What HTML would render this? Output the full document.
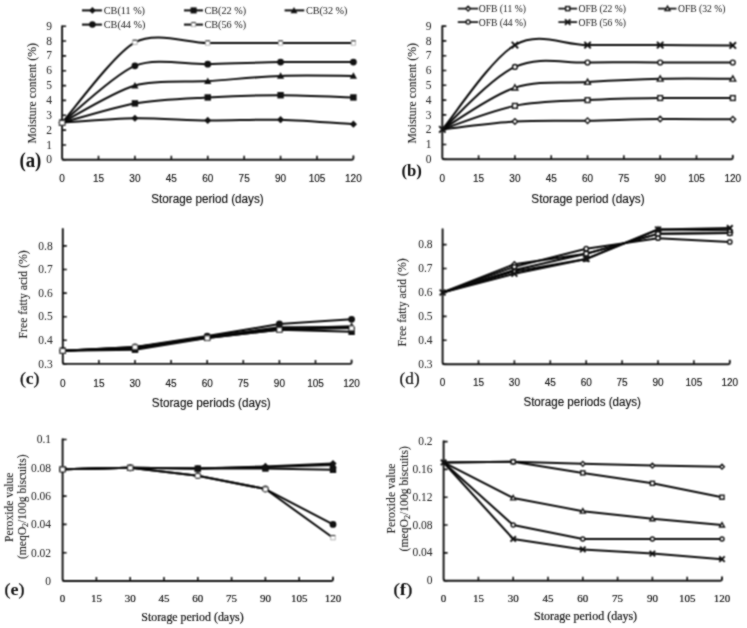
<!DOCTYPE html><html><head><meta charset="utf-8"><style>html,body{margin:0;padding:0;background:#fff;}svg{display:block;}</style></head><body>
<svg width="747" height="628" viewBox="0 0 747 628">
<defs><filter id="bl" x="0" y="0" width="747" height="628" filterUnits="userSpaceOnUse" color-interpolation-filters="sRGB"><feConvolveMatrix order="3" kernelMatrix="1 2 1 2 4 2 1 2 1" divisor="16" edgeMode="duplicate"/></filter><filter id="bt" x="0" y="0" width="747" height="628" filterUnits="userSpaceOnUse" color-interpolation-filters="sRGB"><feConvolveMatrix order="3" kernelMatrix="1 2 1 2 12 2 1 2 1" divisor="24" edgeMode="duplicate"/></filter></defs>
<g filter="url(#bl)">
<rect width="747" height="628" fill="#fff"/>
<path d="M82,10.4 L102,10.4" stroke="#080808" stroke-width="2"/>
<path d="M92.4,6.98 L95.82,10.4 L92.4,13.82 L88.98,10.4 Z" fill="#111"/>
<path d="M184,10.4 L203,10.4" stroke="#080808" stroke-width="2"/>
<rect x="190.56" y="7.36" width="6.08" height="6.08" fill="#111"/>
<path d="M284.6,10.4 L304.3,10.4" stroke="#080808" stroke-width="2"/>
<path d="M294,6.98 L297.42,13.14 L290.58,13.14 Z" fill="#111"/>
<path d="M82,24.6 L102,24.6" stroke="#080808" stroke-width="2"/>
<circle cx="92.4" cy="24.6" r="3.23" fill="#111"/>
<path d="M184,24.6 L203,24.6" stroke="#080808" stroke-width="2"/>
<rect x="191.51" y="22.51" width="4.18" height="4.18" fill="#fff" stroke="#999" stroke-width="0.7"/><path d="M191.51,22.51 h4.18" stroke="#444" stroke-width="1.2"/>
<path d="M62.1,26.2 L62.1,157.8 Q62.1,159.8 64.1,159.8 L351.9,159.8 Q353.4,159.8 353.4,158.3 L353.4,156.3" fill="none" stroke="#101010" stroke-width="1.9" stroke-linejoin="round" stroke-linecap="round"/>
<path d="M62.1,159.8 h4 M62.1,144.96 h4 M62.1,130.11 h4 M62.1,115.27 h4 M62.1,100.42 h4 M62.1,85.58 h4 M62.1,70.73 h4 M62.1,55.89 h4 M62.1,41.04 h4 M62.1,26.2 h4 M98.51,159.8 v-4 M134.92,159.8 v-4 M171.34,159.8 v-4 M207.75,159.8 v-4 M244.16,159.8 v-4 M280.57,159.8 v-4 M316.99,159.8 v-4" stroke="#101010" stroke-width="1.6" fill="none"/>
<path d="M62.1,122.69 C72.5,122.05 114.12,118.55 134.92,118.24 C155.73,117.92 186.94,120.25 207.75,120.46 C228.56,120.67 259.77,119.19 280.57,119.72 C301.38,120.25 343,123.54 353.4,124.17" fill="none" stroke="#080808" stroke-width="2" stroke-linejoin="round"/>
<path d="M62.1,122.69 C72.5,119.93 114.12,107 134.92,103.39 C155.73,99.79 186.94,98.62 207.75,97.45 C228.56,96.29 259.77,95.23 280.57,95.23 C301.38,95.23 343,97.14 353.4,97.45" fill="none" stroke="#080808" stroke-width="2" stroke-linejoin="round"/>
<path d="M62.1,122.69 C72.5,117.39 114.12,91.52 134.92,85.58 C155.73,79.64 186.94,82.5 207.75,81.12 C228.56,79.75 259.77,76.67 280.57,75.93 C301.38,75.19 343,75.93 353.4,75.93" fill="none" stroke="#080808" stroke-width="2" stroke-linejoin="round"/>
<path d="M62.1,122.69 C72.5,114.57 114.12,74.19 134.92,65.83 C155.73,57.48 186.94,64.73 207.75,64.2 C228.56,63.67 259.77,62.42 280.57,62.12 C301.38,61.83 343,62.12 353.4,62.12" fill="none" stroke="#080808" stroke-width="2" stroke-linejoin="round"/>
<path d="M62.1,122.69 C72.5,111.22 114.12,53.77 134.92,42.38 C155.73,30.99 186.94,42.89 207.75,42.97 C228.56,43.06 259.77,42.97 280.57,42.97 C301.38,42.97 343,42.97 353.4,42.97" fill="none" stroke="#080808" stroke-width="2" stroke-linejoin="round"/>
<path d="M62.1,119.09 L65.7,122.69 L62.1,126.29 L58.5,122.69 Z" fill="#111"/>
<path d="M134.92,114.64 L138.52,118.24 L134.92,121.84 L131.32,118.24 Z" fill="#111"/>
<path d="M207.75,116.86 L211.35,120.46 L207.75,124.06 L204.15,120.46 Z" fill="#111"/>
<path d="M280.57,116.12 L284.18,119.72 L280.57,123.32 L276.97,119.72 Z" fill="#111"/>
<path d="M353.4,120.57 L357,124.17 L353.4,127.77 L349.8,124.17 Z" fill="#111"/>
<rect x="58.9" y="119.49" width="6.4" height="6.4" fill="#111"/>
<rect x="131.72" y="100.19" width="6.4" height="6.4" fill="#111"/>
<rect x="204.55" y="94.25" width="6.4" height="6.4" fill="#111"/>
<rect x="277.38" y="92.03" width="6.4" height="6.4" fill="#111"/>
<rect x="350.2" y="94.25" width="6.4" height="6.4" fill="#111"/>
<path d="M62.1,119.09 L65.7,125.57 L58.5,125.57 Z" fill="#111"/>
<path d="M134.92,81.98 L138.52,88.46 L131.32,88.46 Z" fill="#111"/>
<path d="M207.75,77.52 L211.35,84 L204.15,84 Z" fill="#111"/>
<path d="M280.57,72.33 L284.18,78.81 L276.97,78.81 Z" fill="#111"/>
<path d="M353.4,72.33 L357,78.81 L349.8,78.81 Z" fill="#111"/>
<circle cx="62.1" cy="122.69" r="3.4" fill="#111"/>
<circle cx="134.92" cy="65.83" r="3.4" fill="#111"/>
<circle cx="207.75" cy="64.2" r="3.4" fill="#111"/>
<circle cx="280.57" cy="62.12" r="3.4" fill="#111"/>
<circle cx="353.4" cy="62.12" r="3.4" fill="#111"/>
<rect x="59.9" y="120.49" width="4.4" height="4.4" fill="#fff" stroke="#999" stroke-width="0.7"/><path d="M59.9,120.49 h4.4" stroke="#444" stroke-width="1.2"/>
<rect x="132.72" y="40.18" width="4.4" height="4.4" fill="#fff" stroke="#999" stroke-width="0.7"/><path d="M132.72,40.18 h4.4" stroke="#444" stroke-width="1.2"/>
<rect x="205.55" y="40.77" width="4.4" height="4.4" fill="#fff" stroke="#999" stroke-width="0.7"/><path d="M205.55,40.77 h4.4" stroke="#444" stroke-width="1.2"/>
<rect x="278.38" y="40.77" width="4.4" height="4.4" fill="#fff" stroke="#999" stroke-width="0.7"/><path d="M278.38,40.77 h4.4" stroke="#444" stroke-width="1.2"/>
<rect x="351.2" y="40.77" width="4.4" height="4.4" fill="#fff" stroke="#999" stroke-width="0.7"/><path d="M351.2,40.77 h4.4" stroke="#444" stroke-width="1.2"/>
<path d="M457.8,8.6 L478.2,8.6" stroke="#080808" stroke-width="1.7"/>
<path d="M468.1,6.22 L470.48,8.6 L468.1,10.98 L465.72,8.6 Z" fill="#fff" stroke="#111" stroke-width="1.4"/>
<path d="M558.4,8.6 L577.1,8.6" stroke="#080808" stroke-width="1.7"/>
<rect x="565.66" y="6.56" width="4.08" height="4.08" fill="#fff" stroke="#111" stroke-width="1.4"/>
<path d="M658,8.6 L676.5,8.6" stroke="#080808" stroke-width="1.7"/>
<path d="M667.5,6.13 L669.97,10.57 L665.03,10.57 Z" fill="#fff" stroke="#111" stroke-width="1.4"/>
<path d="M457.8,22.1 L478.2,22.1" stroke="#080808" stroke-width="1.7"/>
<circle cx="468.1" cy="22.1" r="2.04" fill="#fff" stroke="#111" stroke-width="1.4"/>
<path d="M558.4,22.1 L577.1,22.1" stroke="#080808" stroke-width="1.7"/>
<path d="M564.98,19.38 L570.42,24.82 M570.42,19.38 L564.98,24.82" stroke="#111" stroke-width="1.9"/>
<path d="M442.3,26.1 L442.3,157.3 Q442.3,159.3 444.3,159.3 L731.3,159.3 Q732.8,159.3 732.8,157.8 L732.8,155.8" fill="none" stroke="#101010" stroke-width="1.9" stroke-linejoin="round" stroke-linecap="round"/>
<path d="M442.3,159.3 h4 M442.3,144.5 h4 M442.3,129.7 h4 M442.3,114.9 h4 M442.3,100.1 h4 M442.3,85.3 h4 M442.3,70.5 h4 M442.3,55.7 h4 M442.3,40.9 h4 M442.3,26.1 h4 M478.61,159.3 v-4 M514.92,159.3 v-4 M551.24,159.3 v-4 M587.55,159.3 v-4 M623.86,159.3 v-4 M660.17,159.3 v-4 M696.49,159.3 v-4" stroke="#101010" stroke-width="1.6" fill="none"/>
<path d="M442.3,129.4 C454.4,128.1 490.72,123.02 514.92,121.56 C539.13,120.1 563.34,121.09 587.55,120.67 C611.76,120.25 635.97,119.27 660.17,119.04 C684.38,118.82 720.7,119.29 732.8,119.34" fill="none" stroke="#080808" stroke-width="2" stroke-linejoin="round"/>
<path d="M442.3,129.4 C454.4,125.48 490.72,110.76 514.92,105.87 C539.13,100.99 563.34,101.41 587.55,100.1 C611.76,98.79 635.97,98.37 660.17,98.03 C684.38,97.68 720.7,98.03 732.8,98.03" fill="none" stroke="#080808" stroke-width="2" stroke-linejoin="round"/>
<path d="M442.3,129.4 C454.4,122.45 490.72,95.56 514.92,87.67 C539.13,79.77 563.34,83.52 587.55,82.04 C611.76,80.56 635.97,79.33 660.17,78.79 C684.38,78.25 720.7,78.79 732.8,78.79" fill="none" stroke="#080808" stroke-width="2" stroke-linejoin="round"/>
<path d="M442.3,129.4 C454.4,118.99 490.72,78.1 514.92,66.95 C539.13,55.8 563.34,63.25 587.55,62.51 C611.76,61.77 635.97,62.51 660.17,62.51 C684.38,62.51 720.7,62.51 732.8,62.51" fill="none" stroke="#080808" stroke-width="2" stroke-linejoin="round"/>
<path d="M442.3,129.4 C454.4,115.34 490.72,59.1 514.92,45.04 C539.13,30.98 563.34,45.04 587.55,45.04 C611.76,45.04 635.97,44.97 660.17,45.04 C684.38,45.12 720.7,45.41 732.8,45.49" fill="none" stroke="#080808" stroke-width="2" stroke-linejoin="round"/>
<path d="M514.92,118.76 L517.72,121.56 L514.92,124.36 L512.12,121.56 Z" fill="#fff" stroke="#111" stroke-width="1.4"/>
<path d="M587.55,117.87 L590.35,120.67 L587.55,123.47 L584.75,120.67 Z" fill="#fff" stroke="#111" stroke-width="1.4"/>
<path d="M660.17,116.24 L662.97,119.04 L660.17,121.84 L657.38,119.04 Z" fill="#fff" stroke="#111" stroke-width="1.4"/>
<path d="M732.8,116.54 L735.6,119.34 L732.8,122.14 L730,119.34 Z" fill="#fff" stroke="#111" stroke-width="1.4"/>
<rect x="512.52" y="103.47" width="4.8" height="4.8" fill="#fff" stroke="#111" stroke-width="1.4"/>
<rect x="585.15" y="97.7" width="4.8" height="4.8" fill="#fff" stroke="#111" stroke-width="1.4"/>
<rect x="657.77" y="95.63" width="4.8" height="4.8" fill="#fff" stroke="#111" stroke-width="1.4"/>
<rect x="730.4" y="95.63" width="4.8" height="4.8" fill="#fff" stroke="#111" stroke-width="1.4"/>
<path d="M514.92,84.77 L517.82,89.99 L512.02,89.99 Z" fill="#fff" stroke="#111" stroke-width="1.4"/>
<path d="M587.55,79.14 L590.45,84.36 L584.65,84.36 Z" fill="#fff" stroke="#111" stroke-width="1.4"/>
<path d="M660.17,75.89 L663.07,81.11 L657.27,81.11 Z" fill="#fff" stroke="#111" stroke-width="1.4"/>
<path d="M732.8,75.89 L735.7,81.11 L729.9,81.11 Z" fill="#fff" stroke="#111" stroke-width="1.4"/>
<circle cx="514.92" cy="66.95" r="2.4" fill="#fff" stroke="#111" stroke-width="1.4"/>
<circle cx="587.55" cy="62.51" r="2.4" fill="#fff" stroke="#111" stroke-width="1.4"/>
<circle cx="660.17" cy="62.51" r="2.4" fill="#fff" stroke="#111" stroke-width="1.4"/>
<circle cx="732.8" cy="62.51" r="2.4" fill="#fff" stroke="#111" stroke-width="1.4"/>
<path d="M439.1,126.2 L445.5,132.6 M445.5,126.2 L439.1,132.6" stroke="#111" stroke-width="1.9"/>
<path d="M511.72,41.84 L518.12,48.24 M518.12,41.84 L511.72,48.24" stroke="#111" stroke-width="1.9"/>
<path d="M584.35,41.84 L590.75,48.24 M590.75,41.84 L584.35,48.24" stroke="#111" stroke-width="1.9"/>
<path d="M656.97,41.84 L663.38,48.24 M663.38,41.84 L656.97,48.24" stroke="#111" stroke-width="1.9"/>
<path d="M729.6,42.29 L736,48.69 M736,42.29 L729.6,48.69" stroke="#111" stroke-width="1.9"/>
<path d="M62.8,229 L62.8,361.9 Q62.8,363.9 64.8,363.9 L350.1,363.9 Q351.6,363.9 351.6,362.4 L351.6,360.4" fill="none" stroke="#101010" stroke-width="1.9" stroke-linejoin="round" stroke-linecap="round"/>
<path d="M62.8,363.9 h4 M62.8,340.3 h4 M62.8,316.7 h4 M62.8,293.1 h4 M62.8,269.5 h4 M62.8,245.9 h4 M98.9,363.9 v-4 M135,363.9 v-4 M171.1,363.9 v-4 M207.2,363.9 v-4 M243.3,363.9 v-4 M279.4,363.9 v-4 M315.5,363.9 v-4" stroke="#101010" stroke-width="1.6" fill="none"/>
<path d="M62.8,350.68 L135,347.38 L207.2,336.76 L279.4,327.32 L351.6,327.32" fill="none" stroke="#080808" stroke-width="2" stroke-linejoin="round"/>
<path d="M62.8,350.68 L135,349.74 L207.2,337.94 L279.4,329.68 L351.6,331.8" fill="none" stroke="#080808" stroke-width="2" stroke-linejoin="round"/>
<path d="M62.8,350.68 L135,348.56 L207.2,336.76 L279.4,328.5 L351.6,326.14" fill="none" stroke="#080808" stroke-width="2" stroke-linejoin="round"/>
<path d="M62.8,350.68 L135,346.91 L207.2,336.05 L279.4,324.02 L351.6,319.3" fill="none" stroke="#080808" stroke-width="2" stroke-linejoin="round"/>
<path d="M62.8,350.68 L135,346.91 L207.2,337.94 L279.4,329.68 L351.6,328.03" fill="none" stroke="#080808" stroke-width="2" stroke-linejoin="round"/>
<path d="M62.8,347.08 L66.4,350.68 L62.8,354.28 L59.2,350.68 Z" fill="#111"/>
<path d="M135,343.78 L138.6,347.38 L135,350.98 L131.4,347.38 Z" fill="#111"/>
<path d="M207.2,333.16 L210.8,336.76 L207.2,340.36 L203.6,336.76 Z" fill="#111"/>
<path d="M279.4,323.72 L283,327.32 L279.4,330.92 L275.8,327.32 Z" fill="#111"/>
<path d="M351.6,323.72 L355.2,327.32 L351.6,330.92 L348,327.32 Z" fill="#111"/>
<rect x="59.6" y="347.48" width="6.4" height="6.4" fill="#111"/>
<rect x="131.8" y="346.54" width="6.4" height="6.4" fill="#111"/>
<rect x="204" y="334.74" width="6.4" height="6.4" fill="#111"/>
<rect x="276.2" y="326.48" width="6.4" height="6.4" fill="#111"/>
<rect x="348.4" y="328.6" width="6.4" height="6.4" fill="#111"/>
<path d="M62.8,347.08 L66.4,353.56 L59.2,353.56 Z" fill="#111"/>
<path d="M135,344.96 L138.6,351.44 L131.4,351.44 Z" fill="#111"/>
<path d="M207.2,333.16 L210.8,339.64 L203.6,339.64 Z" fill="#111"/>
<path d="M279.4,324.9 L283,331.38 L275.8,331.38 Z" fill="#111"/>
<path d="M351.6,322.54 L355.2,329.02 L348,329.02 Z" fill="#111"/>
<circle cx="62.8" cy="350.68" r="3.4" fill="#111"/>
<circle cx="135" cy="346.91" r="3.4" fill="#111"/>
<circle cx="207.2" cy="336.05" r="3.4" fill="#111"/>
<circle cx="279.4" cy="324.02" r="3.4" fill="#111"/>
<circle cx="351.6" cy="319.3" r="3.4" fill="#111"/>
<rect x="60.6" y="348.48" width="4.4" height="4.4" fill="#fff" stroke="#999" stroke-width="0.7"/><path d="M60.6,348.48 h4.4" stroke="#444" stroke-width="1.2"/>
<rect x="132.8" y="344.71" width="4.4" height="4.4" fill="#fff" stroke="#999" stroke-width="0.7"/><path d="M132.8,344.71 h4.4" stroke="#444" stroke-width="1.2"/>
<rect x="205" y="335.74" width="4.4" height="4.4" fill="#fff" stroke="#999" stroke-width="0.7"/><path d="M205,335.74 h4.4" stroke="#444" stroke-width="1.2"/>
<rect x="277.2" y="327.48" width="4.4" height="4.4" fill="#fff" stroke="#999" stroke-width="0.7"/><path d="M277.2,327.48 h4.4" stroke="#444" stroke-width="1.2"/>
<rect x="349.4" y="325.83" width="4.4" height="4.4" fill="#fff" stroke="#999" stroke-width="0.7"/><path d="M349.4,325.83 h4.4" stroke="#444" stroke-width="1.2"/>
<path d="M442.6,229.2 L442.6,362.2 Q442.6,364.2 444.6,364.2 L728.3,364.2 Q729.8,364.2 729.8,362.7 L729.8,360.7" fill="none" stroke="#101010" stroke-width="1.9" stroke-linejoin="round" stroke-linecap="round"/>
<path d="M442.6,364.2 h4 M442.6,340.28 h4 M442.6,316.36 h4 M442.6,292.44 h4 M442.6,268.52 h4 M442.6,244.6 h4 M478.5,364.2 v-4 M514.4,364.2 v-4 M550.3,364.2 v-4 M586.2,364.2 v-4 M622.1,364.2 v-4 M658,364.2 v-4 M693.9,364.2 v-4" stroke="#101010" stroke-width="1.6" fill="none"/>
<path d="M442.6,292.44 L514.4,264.21 L586.2,253.69 L658,233.84 L729.8,233.12" fill="none" stroke="#080808" stroke-width="2" stroke-linejoin="round"/>
<path d="M442.6,292.44 L514.4,269.96 L586.2,253.69 L658,233.84 L729.8,233.12" fill="none" stroke="#080808" stroke-width="2" stroke-linejoin="round"/>
<path d="M442.6,292.44 L514.4,271.39 L586.2,258.95 L658,229.53 L729.8,230.25" fill="none" stroke="#080808" stroke-width="2" stroke-linejoin="round"/>
<path d="M442.6,292.44 L514.4,266.85 L586.2,248.67 L658,238.14 L729.8,241.97" fill="none" stroke="#080808" stroke-width="2" stroke-linejoin="round"/>
<path d="M442.6,292.44 L514.4,273.78 L586.2,258.95 L658,229.53 L729.8,228.1" fill="none" stroke="#080808" stroke-width="2" stroke-linejoin="round"/>
<path d="M514.4,261.69 L516.92,264.21 L514.4,266.73 L511.88,264.21 Z" fill="#fff" stroke="#111" stroke-width="1.4"/>
<path d="M586.2,251.17 L588.72,253.69 L586.2,256.21 L583.68,253.69 Z" fill="#fff" stroke="#111" stroke-width="1.4"/>
<path d="M658,231.32 L660.52,233.84 L658,236.36 L655.48,233.84 Z" fill="#fff" stroke="#111" stroke-width="1.4"/>
<path d="M729.8,230.6 L732.32,233.12 L729.8,235.64 L727.28,233.12 Z" fill="#fff" stroke="#111" stroke-width="1.4"/>
<rect x="512.24" y="267.8" width="4.32" height="4.32" fill="#fff" stroke="#111" stroke-width="1.4"/>
<rect x="584.04" y="251.53" width="4.32" height="4.32" fill="#fff" stroke="#111" stroke-width="1.4"/>
<rect x="655.84" y="231.68" width="4.32" height="4.32" fill="#fff" stroke="#111" stroke-width="1.4"/>
<rect x="727.64" y="230.96" width="4.32" height="4.32" fill="#fff" stroke="#111" stroke-width="1.4"/>
<path d="M514.4,268.78 L517.01,273.48 L511.79,273.48 Z" fill="#fff" stroke="#111" stroke-width="1.4"/>
<path d="M586.2,256.34 L588.81,261.04 L583.59,261.04 Z" fill="#fff" stroke="#111" stroke-width="1.4"/>
<path d="M658,226.92 L660.61,231.62 L655.39,231.62 Z" fill="#fff" stroke="#111" stroke-width="1.4"/>
<path d="M729.8,227.64 L732.41,232.34 L727.19,232.34 Z" fill="#fff" stroke="#111" stroke-width="1.4"/>
<circle cx="514.4" cy="266.85" r="2.16" fill="#fff" stroke="#111" stroke-width="1.4"/>
<circle cx="586.2" cy="248.67" r="2.16" fill="#fff" stroke="#111" stroke-width="1.4"/>
<circle cx="658" cy="238.14" r="2.16" fill="#fff" stroke="#111" stroke-width="1.4"/>
<circle cx="729.8" cy="241.97" r="2.16" fill="#fff" stroke="#111" stroke-width="1.4"/>
<path d="M439.72,289.56 L445.48,295.32 M445.48,289.56 L439.72,295.32" stroke="#111" stroke-width="1.9"/>
<path d="M511.52,270.9 L517.28,276.66 M517.28,270.9 L511.52,276.66" stroke="#111" stroke-width="1.9"/>
<path d="M583.32,256.07 L589.08,261.83 M589.08,256.07 L583.32,261.83" stroke="#111" stroke-width="1.9"/>
<path d="M655.12,226.65 L660.88,232.41 M660.88,226.65 L655.12,232.41" stroke="#111" stroke-width="1.9"/>
<path d="M726.92,225.22 L732.68,230.98 M732.68,225.22 L726.92,230.98" stroke="#111" stroke-width="1.9"/>
<path d="M62.6,439.3 L62.6,579 Q62.6,581 64.6,581 L331.5,581 Q333,581 333,579.5 L333,577.5" fill="none" stroke="#101010" stroke-width="1.9" stroke-linejoin="round" stroke-linecap="round"/>
<path d="M62.6,581 h4 M62.6,552.7 h4 M62.6,524.4 h4 M62.6,496.1 h4 M62.6,467.8 h4 M62.6,439.5 h4 M96.4,581 v-4 M130.2,581 v-4 M164,581 v-4 M197.8,581 v-4 M231.6,581 v-4 M265.4,581 v-4 M299.2,581 v-4" stroke="#101010" stroke-width="1.6" fill="none"/>
<path d="M62.6,469.22 L130.2,467.8 L197.8,468.51 L265.4,466.38 L333,463.56" fill="none" stroke="#080808" stroke-width="2" stroke-linejoin="round"/>
<path d="M62.6,469.22 L130.2,467.8 L197.8,468.51 L265.4,468.51 L333,469.78" fill="none" stroke="#080808" stroke-width="2" stroke-linejoin="round"/>
<path d="M62.6,469.22 L130.2,467.8 L197.8,468.51 L265.4,467.09 L333,464.97" fill="none" stroke="#080808" stroke-width="2" stroke-linejoin="round"/>
<path d="M62.6,469.22 L130.2,467.8 L197.8,475.72 L265.4,489.02 L333,524.4" fill="none" stroke="#080808" stroke-width="2" stroke-linejoin="round"/>
<path d="M62.6,469.22 L130.2,467.8 L197.8,475.72 L265.4,489.02 L333,537.7" fill="none" stroke="#080808" stroke-width="2" stroke-linejoin="round"/>
<path d="M62.6,465.62 L66.2,469.22 L62.6,472.82 L59,469.22 Z" fill="#111"/>
<path d="M130.2,464.2 L133.8,467.8 L130.2,471.4 L126.6,467.8 Z" fill="#111"/>
<path d="M197.8,464.91 L201.4,468.51 L197.8,472.11 L194.2,468.51 Z" fill="#111"/>
<path d="M265.4,462.78 L269,466.38 L265.4,469.99 L261.8,466.38 Z" fill="#111"/>
<path d="M333,459.95 L336.6,463.56 L333,467.16 L329.4,463.56 Z" fill="#111"/>
<rect x="59.4" y="466.02" width="6.4" height="6.4" fill="#111"/>
<rect x="127" y="464.6" width="6.4" height="6.4" fill="#111"/>
<rect x="194.6" y="465.31" width="6.4" height="6.4" fill="#111"/>
<rect x="262.2" y="465.31" width="6.4" height="6.4" fill="#111"/>
<rect x="329.8" y="466.58" width="6.4" height="6.4" fill="#111"/>
<path d="M62.6,465.62 L66.2,472.1 L59,472.1 Z" fill="#111"/>
<path d="M130.2,464.2 L133.8,470.68 L126.6,470.68 Z" fill="#111"/>
<path d="M197.8,464.91 L201.4,471.39 L194.2,471.39 Z" fill="#111"/>
<path d="M265.4,463.49 L269,469.97 L261.8,469.97 Z" fill="#111"/>
<path d="M333,461.37 L336.6,467.85 L329.4,467.85 Z" fill="#111"/>
<circle cx="62.6" cy="469.22" r="3.4" fill="#111"/>
<circle cx="130.2" cy="467.8" r="3.4" fill="#111"/>
<circle cx="197.8" cy="475.72" r="3.4" fill="#111"/>
<circle cx="265.4" cy="489.02" r="3.4" fill="#111"/>
<circle cx="333" cy="524.4" r="3.4" fill="#111"/>
<rect x="60.4" y="467.02" width="4.4" height="4.4" fill="#fff" stroke="#999" stroke-width="0.7"/><path d="M60.4,467.02 h4.4" stroke="#444" stroke-width="1.2"/>
<rect x="128" y="465.6" width="4.4" height="4.4" fill="#fff" stroke="#999" stroke-width="0.7"/><path d="M128,465.6 h4.4" stroke="#444" stroke-width="1.2"/>
<rect x="195.6" y="473.52" width="4.4" height="4.4" fill="#fff" stroke="#999" stroke-width="0.7"/><path d="M195.6,473.52 h4.4" stroke="#444" stroke-width="1.2"/>
<rect x="263.2" y="486.82" width="4.4" height="4.4" fill="#fff" stroke="#999" stroke-width="0.7"/><path d="M263.2,486.82 h4.4" stroke="#444" stroke-width="1.2"/>
<rect x="330.8" y="535.5" width="4.4" height="4.4" fill="#fff" stroke="#999" stroke-width="0.7"/><path d="M330.8,535.5 h4.4" stroke="#444" stroke-width="1.2"/>
<path d="M443.6,441.3 L443.6,578.7 Q443.6,580.7 445.6,580.7 L720.5,580.7 Q722,580.7 722,579.2 L722,577.2" fill="none" stroke="#101010" stroke-width="1.9" stroke-linejoin="round" stroke-linecap="round"/>
<path d="M443.6,580.7 h4 M443.6,552.88 h4 M443.6,525.06 h4 M443.6,497.24 h4 M443.6,469.42 h4 M443.6,441.6 h4 M478.4,580.7 v-4 M513.2,580.7 v-4 M548,580.7 v-4 M582.8,580.7 v-4 M617.6,580.7 v-4 M652.4,580.7 v-4 M687.2,580.7 v-4" stroke="#101010" stroke-width="1.6" fill="none"/>
<path d="M443.6,462.47 L513.2,461.77 L582.8,463.86 L652.4,465.59 L722,466.64" fill="none" stroke="#080808" stroke-width="2" stroke-linejoin="round"/>
<path d="M443.6,462.47 L513.2,461.77 L582.8,472.9 L652.4,483.33 L722,497.24" fill="none" stroke="#080808" stroke-width="2" stroke-linejoin="round"/>
<path d="M443.6,462.47 L513.2,497.94 L582.8,511.15 L652.4,518.8 L722,525.06" fill="none" stroke="#080808" stroke-width="2" stroke-linejoin="round"/>
<path d="M443.6,462.47 L513.2,525.06 L582.8,538.97 L652.4,538.97 L722,538.97" fill="none" stroke="#080808" stroke-width="2" stroke-linejoin="round"/>
<path d="M443.6,462.47 L513.2,538.97 L582.8,549.4 L652.4,553.58 L722,559.14" fill="none" stroke="#080808" stroke-width="2" stroke-linejoin="round"/>
<path d="M513.2,459.39 L515.58,461.77 L513.2,464.15 L510.82,461.77 Z" fill="#fff" stroke="#111" stroke-width="1.4"/>
<path d="M582.8,461.48 L585.18,463.86 L582.8,466.24 L580.42,463.86 Z" fill="#fff" stroke="#111" stroke-width="1.4"/>
<path d="M652.4,463.21 L654.78,465.59 L652.4,467.97 L650.02,465.59 Z" fill="#fff" stroke="#111" stroke-width="1.4"/>
<path d="M722,464.26 L724.38,466.64 L722,469.02 L719.62,466.64 Z" fill="#fff" stroke="#111" stroke-width="1.4"/>
<rect x="511.16" y="459.73" width="4.08" height="4.08" fill="#fff" stroke="#111" stroke-width="1.4"/>
<rect x="580.76" y="470.86" width="4.08" height="4.08" fill="#fff" stroke="#111" stroke-width="1.4"/>
<rect x="650.36" y="481.29" width="4.08" height="4.08" fill="#fff" stroke="#111" stroke-width="1.4"/>
<rect x="719.96" y="495.2" width="4.08" height="4.08" fill="#fff" stroke="#111" stroke-width="1.4"/>
<path d="M513.2,495.47 L515.67,499.91 L510.74,499.91 Z" fill="#fff" stroke="#111" stroke-width="1.4"/>
<path d="M582.8,508.69 L585.26,513.12 L580.33,513.12 Z" fill="#fff" stroke="#111" stroke-width="1.4"/>
<path d="M652.4,516.34 L654.87,520.77 L649.93,520.77 Z" fill="#fff" stroke="#111" stroke-width="1.4"/>
<path d="M722,522.6 L724.47,527.03 L719.53,527.03 Z" fill="#fff" stroke="#111" stroke-width="1.4"/>
<circle cx="513.2" cy="525.06" r="2.04" fill="#fff" stroke="#111" stroke-width="1.4"/>
<circle cx="582.8" cy="538.97" r="2.04" fill="#fff" stroke="#111" stroke-width="1.4"/>
<circle cx="652.4" cy="538.97" r="2.04" fill="#fff" stroke="#111" stroke-width="1.4"/>
<circle cx="722" cy="538.97" r="2.04" fill="#fff" stroke="#111" stroke-width="1.4"/>
<path d="M440.88,459.75 L446.32,465.19 M446.32,459.75 L440.88,465.19" stroke="#111" stroke-width="1.9"/>
<path d="M510.48,536.25 L515.92,541.69 M515.92,536.25 L510.48,541.69" stroke="#111" stroke-width="1.9"/>
<path d="M580.08,546.68 L585.52,552.12 M585.52,546.68 L580.08,552.12" stroke="#111" stroke-width="1.9"/>
<path d="M649.68,550.86 L655.12,556.3 M655.12,550.86 L649.68,556.3" stroke="#111" stroke-width="1.9"/>
<path d="M719.28,556.42 L724.72,561.86 M724.72,556.42 L719.28,561.86" stroke="#111" stroke-width="1.9"/>
</g>
<g filter="url(#bt)">
<text x="103.8" y="13.8" font-size="10.2" font-family='"Liberation Serif", serif' fill="#2a2a2a" text-anchor="start" stroke="#2a2a2a" stroke-width="0.05" >CB(11 %)</text>
<text x="204.5" y="13.8" font-size="10.2" font-family='"Liberation Serif", serif' fill="#2a2a2a" text-anchor="start" stroke="#2a2a2a" stroke-width="0.05" >CB(22 %)</text>
<text x="305.9" y="13.8" font-size="10.2" font-family='"Liberation Serif", serif' fill="#2a2a2a" text-anchor="start" stroke="#2a2a2a" stroke-width="0.05" >CB(32 %)</text>
<text x="103.8" y="28" font-size="10.2" font-family='"Liberation Serif", serif' fill="#2a2a2a" text-anchor="start" stroke="#2a2a2a" stroke-width="0.05" >CB(44 %)</text>
<text x="204.5" y="28" font-size="10.2" font-family='"Liberation Serif", serif' fill="#2a2a2a" text-anchor="start" stroke="#2a2a2a" stroke-width="0.05" >CB(56 %)</text>
<text x="52" y="163.4" font-size="11.5" font-family='"Liberation Serif", serif' fill="#222" text-anchor="end" stroke="#222" stroke-width="0.01" >0</text>
<text x="52" y="148.56" font-size="11.5" font-family='"Liberation Serif", serif' fill="#222" text-anchor="end" stroke="#222" stroke-width="0.01" >1</text>
<text x="52" y="133.71" font-size="11.5" font-family='"Liberation Serif", serif' fill="#222" text-anchor="end" stroke="#222" stroke-width="0.01" >2</text>
<text x="52" y="118.87" font-size="11.5" font-family='"Liberation Serif", serif' fill="#222" text-anchor="end" stroke="#222" stroke-width="0.01" >3</text>
<text x="52" y="104.02" font-size="11.5" font-family='"Liberation Serif", serif' fill="#222" text-anchor="end" stroke="#222" stroke-width="0.01" >4</text>
<text x="52" y="89.18" font-size="11.5" font-family='"Liberation Serif", serif' fill="#222" text-anchor="end" stroke="#222" stroke-width="0.01" >5</text>
<text x="52" y="74.33" font-size="11.5" font-family='"Liberation Serif", serif' fill="#222" text-anchor="end" stroke="#222" stroke-width="0.01" >6</text>
<text x="52" y="59.49" font-size="11.5" font-family='"Liberation Serif", serif' fill="#222" text-anchor="end" stroke="#222" stroke-width="0.01" >7</text>
<text x="52" y="44.64" font-size="11.5" font-family='"Liberation Serif", serif' fill="#222" text-anchor="end" stroke="#222" stroke-width="0.01" >8</text>
<text x="52" y="29.8" font-size="11.5" font-family='"Liberation Serif", serif' fill="#222" text-anchor="end" stroke="#222" stroke-width="0.01" >9</text>
<text x="62.1" y="181.5" font-size="10" font-family='"Liberation Sans", sans-serif' fill="#111111" text-anchor="middle" stroke="#111111" stroke-width="0.15" >0</text>
<text x="98.51" y="181.5" font-size="10" font-family='"Liberation Sans", sans-serif' fill="#111111" text-anchor="middle" stroke="#111111" stroke-width="0.15" >15</text>
<text x="134.92" y="181.5" font-size="10" font-family='"Liberation Sans", sans-serif' fill="#111111" text-anchor="middle" stroke="#111111" stroke-width="0.15" >30</text>
<text x="171.34" y="181.5" font-size="10" font-family='"Liberation Sans", sans-serif' fill="#111111" text-anchor="middle" stroke="#111111" stroke-width="0.15" >45</text>
<text x="207.75" y="181.5" font-size="10" font-family='"Liberation Sans", sans-serif' fill="#111111" text-anchor="middle" stroke="#111111" stroke-width="0.15" >60</text>
<text x="244.16" y="181.5" font-size="10" font-family='"Liberation Sans", sans-serif' fill="#111111" text-anchor="middle" stroke="#111111" stroke-width="0.15" >75</text>
<text x="280.57" y="181.5" font-size="10" font-family='"Liberation Sans", sans-serif' fill="#111111" text-anchor="middle" stroke="#111111" stroke-width="0.15" >90</text>
<text x="316.99" y="181.5" font-size="10" font-family='"Liberation Sans", sans-serif' fill="#111111" text-anchor="middle" stroke="#111111" stroke-width="0.15" >105</text>
<text x="353.4" y="181.5" font-size="10" font-family='"Liberation Sans", sans-serif' fill="#111111" text-anchor="middle" stroke="#111111" stroke-width="0.15" >120</text>
<text x="151.2" y="202.6" font-size="12" font-family='"Liberation Sans", sans-serif' fill="#111111" text-anchor="start" textLength="112.5" lengthAdjust="spacingAndGlyphs" stroke="#111111" stroke-width="0.15" >Storage period (days)</text>
<text x="36" y="93.35" font-size="12.5" font-family='"Liberation Serif", serif' fill="#1a1a1a" text-anchor="middle" textLength="100.5" lengthAdjust="spacingAndGlyphs" transform="rotate(-90 36 93.35)" stroke="#1a1a1a" stroke-width="0.1" >Moisture content (%)</text>
<text x="19.4" y="167" font-size="20" font-family='"Liberation Serif", serif' fill="#111" text-anchor="start" font-weight="bold" textLength="22" lengthAdjust="spacingAndGlyphs" >(a)</text>
<text x="478.8" y="12" font-size="9.6" font-family='"Liberation Serif", serif' fill="#2a2a2a" text-anchor="start" stroke="#2a2a2a" stroke-width="0.05" >OFB (11 %)</text>
<text x="578.5" y="12" font-size="9.6" font-family='"Liberation Serif", serif' fill="#2a2a2a" text-anchor="start" stroke="#2a2a2a" stroke-width="0.05" >OFB (22 %)</text>
<text x="678" y="12" font-size="9.6" font-family='"Liberation Serif", serif' fill="#2a2a2a" text-anchor="start" stroke="#2a2a2a" stroke-width="0.05" >OFB (32 %)</text>
<text x="478.8" y="25.5" font-size="9.6" font-family='"Liberation Serif", serif' fill="#2a2a2a" text-anchor="start" stroke="#2a2a2a" stroke-width="0.05" >OFB (44 %)</text>
<text x="578.5" y="25.5" font-size="9.6" font-family='"Liberation Serif", serif' fill="#2a2a2a" text-anchor="start" stroke="#2a2a2a" stroke-width="0.05" >OFB (56 %)</text>
<text x="431.5" y="162.9" font-size="11.5" font-family='"Liberation Serif", serif' fill="#222" text-anchor="end" stroke="#222" stroke-width="0.01" >0</text>
<text x="431.5" y="148.1" font-size="11.5" font-family='"Liberation Serif", serif' fill="#222" text-anchor="end" stroke="#222" stroke-width="0.01" >1</text>
<text x="431.5" y="133.3" font-size="11.5" font-family='"Liberation Serif", serif' fill="#222" text-anchor="end" stroke="#222" stroke-width="0.01" >2</text>
<text x="431.5" y="118.5" font-size="11.5" font-family='"Liberation Serif", serif' fill="#222" text-anchor="end" stroke="#222" stroke-width="0.01" >3</text>
<text x="431.5" y="103.7" font-size="11.5" font-family='"Liberation Serif", serif' fill="#222" text-anchor="end" stroke="#222" stroke-width="0.01" >4</text>
<text x="431.5" y="88.9" font-size="11.5" font-family='"Liberation Serif", serif' fill="#222" text-anchor="end" stroke="#222" stroke-width="0.01" >5</text>
<text x="431.5" y="74.1" font-size="11.5" font-family='"Liberation Serif", serif' fill="#222" text-anchor="end" stroke="#222" stroke-width="0.01" >6</text>
<text x="431.5" y="59.3" font-size="11.5" font-family='"Liberation Serif", serif' fill="#222" text-anchor="end" stroke="#222" stroke-width="0.01" >7</text>
<text x="431.5" y="44.5" font-size="11.5" font-family='"Liberation Serif", serif' fill="#222" text-anchor="end" stroke="#222" stroke-width="0.01" >8</text>
<text x="431.5" y="29.7" font-size="11.5" font-family='"Liberation Serif", serif' fill="#222" text-anchor="end" stroke="#222" stroke-width="0.01" >9</text>
<text x="442.3" y="181.5" font-size="10" font-family='"Liberation Sans", sans-serif' fill="#111111" text-anchor="middle" stroke="#111111" stroke-width="0.15" >0</text>
<text x="478.61" y="181.5" font-size="10" font-family='"Liberation Sans", sans-serif' fill="#111111" text-anchor="middle" stroke="#111111" stroke-width="0.15" >15</text>
<text x="514.92" y="181.5" font-size="10" font-family='"Liberation Sans", sans-serif' fill="#111111" text-anchor="middle" stroke="#111111" stroke-width="0.15" >30</text>
<text x="551.24" y="181.5" font-size="10" font-family='"Liberation Sans", sans-serif' fill="#111111" text-anchor="middle" stroke="#111111" stroke-width="0.15" >45</text>
<text x="587.55" y="181.5" font-size="10" font-family='"Liberation Sans", sans-serif' fill="#111111" text-anchor="middle" stroke="#111111" stroke-width="0.15" >60</text>
<text x="623.86" y="181.5" font-size="10" font-family='"Liberation Sans", sans-serif' fill="#111111" text-anchor="middle" stroke="#111111" stroke-width="0.15" >75</text>
<text x="660.17" y="181.5" font-size="10" font-family='"Liberation Sans", sans-serif' fill="#111111" text-anchor="middle" stroke="#111111" stroke-width="0.15" >90</text>
<text x="696.49" y="181.5" font-size="10" font-family='"Liberation Sans", sans-serif' fill="#111111" text-anchor="middle" stroke="#111111" stroke-width="0.15" >105</text>
<text x="732.8" y="181.5" font-size="10" font-family='"Liberation Sans", sans-serif' fill="#111111" text-anchor="middle" stroke="#111111" stroke-width="0.15" >120</text>
<text x="531.3" y="202.6" font-size="12" font-family='"Liberation Sans", sans-serif' fill="#111111" text-anchor="start" textLength="113.3" lengthAdjust="spacingAndGlyphs" stroke="#111111" stroke-width="0.15" >Storage period (days)</text>
<text x="416.3" y="93.35" font-size="12.5" font-family='"Liberation Serif", serif' fill="#1a1a1a" text-anchor="middle" textLength="100.5" lengthAdjust="spacingAndGlyphs" transform="rotate(-90 416.3 93.35)" stroke="#1a1a1a" stroke-width="0.1" >Moisture content (%)</text>
<text x="401.4" y="176.3" font-size="17" font-family='"Liberation Serif", serif' fill="#111" text-anchor="start" font-weight="bold" textLength="20.5" lengthAdjust="spacingAndGlyphs" >(b)</text>
<text x="52.7" y="367.5" font-size="11.5" font-family='"Liberation Serif", serif' fill="#222" text-anchor="end" stroke="#222" stroke-width="0.01" >0.3</text>
<text x="52.7" y="343.9" font-size="11.5" font-family='"Liberation Serif", serif' fill="#222" text-anchor="end" stroke="#222" stroke-width="0.01" >0.4</text>
<text x="52.7" y="320.3" font-size="11.5" font-family='"Liberation Serif", serif' fill="#222" text-anchor="end" stroke="#222" stroke-width="0.01" >0.5</text>
<text x="52.7" y="296.7" font-size="11.5" font-family='"Liberation Serif", serif' fill="#222" text-anchor="end" stroke="#222" stroke-width="0.01" >0.6</text>
<text x="52.7" y="273.1" font-size="11.5" font-family='"Liberation Serif", serif' fill="#222" text-anchor="end" stroke="#222" stroke-width="0.01" >0.7</text>
<text x="52.7" y="249.5" font-size="11.5" font-family='"Liberation Serif", serif' fill="#222" text-anchor="end" stroke="#222" stroke-width="0.01" >0.8</text>
<text x="62.8" y="386.5" font-size="10" font-family='"Liberation Sans", sans-serif' fill="#111111" text-anchor="middle" stroke="#111111" stroke-width="0.15" >0</text>
<text x="98.9" y="386.5" font-size="10" font-family='"Liberation Sans", sans-serif' fill="#111111" text-anchor="middle" stroke="#111111" stroke-width="0.15" >15</text>
<text x="135" y="386.5" font-size="10" font-family='"Liberation Sans", sans-serif' fill="#111111" text-anchor="middle" stroke="#111111" stroke-width="0.15" >30</text>
<text x="171.1" y="386.5" font-size="10" font-family='"Liberation Sans", sans-serif' fill="#111111" text-anchor="middle" stroke="#111111" stroke-width="0.15" >45</text>
<text x="207.2" y="386.5" font-size="10" font-family='"Liberation Sans", sans-serif' fill="#111111" text-anchor="middle" stroke="#111111" stroke-width="0.15" >60</text>
<text x="243.3" y="386.5" font-size="10" font-family='"Liberation Sans", sans-serif' fill="#111111" text-anchor="middle" stroke="#111111" stroke-width="0.15" >75</text>
<text x="279.4" y="386.5" font-size="10" font-family='"Liberation Sans", sans-serif' fill="#111111" text-anchor="middle" stroke="#111111" stroke-width="0.15" >90</text>
<text x="315.5" y="386.5" font-size="10" font-family='"Liberation Sans", sans-serif' fill="#111111" text-anchor="middle" stroke="#111111" stroke-width="0.15" >105</text>
<text x="351.6" y="386.5" font-size="10" font-family='"Liberation Sans", sans-serif' fill="#111111" text-anchor="middle" stroke="#111111" stroke-width="0.15" >120</text>
<text x="151.8" y="407.2" font-size="12" font-family='"Liberation Sans", sans-serif' fill="#111111" text-anchor="start" textLength="118.9" lengthAdjust="spacingAndGlyphs" stroke="#111111" stroke-width="0.15" >Storage periods (days)</text>
<text x="26.8" y="294.35" font-size="12.5" font-family='"Liberation Serif", serif' fill="#1a1a1a" text-anchor="middle" textLength="88.1" lengthAdjust="spacingAndGlyphs" transform="rotate(-90 26.8 294.35)" stroke="#1a1a1a" stroke-width="0.1" >Free fatty acid (%)</text>
<text x="19.9" y="383.8" font-size="17" font-family='"Liberation Serif", serif' fill="#111" text-anchor="start" textLength="19.6" lengthAdjust="spacingAndGlyphs" stroke="#111" stroke-width="0.3" >(<tspan font-weight="bold" stroke-width="0">c</tspan>)</text>
<text x="432.5" y="367.8" font-size="11.5" font-family='"Liberation Serif", serif' fill="#222" text-anchor="end" stroke="#222" stroke-width="0.01" >0.3</text>
<text x="432.5" y="343.88" font-size="11.5" font-family='"Liberation Serif", serif' fill="#222" text-anchor="end" stroke="#222" stroke-width="0.01" >0.4</text>
<text x="432.5" y="319.96" font-size="11.5" font-family='"Liberation Serif", serif' fill="#222" text-anchor="end" stroke="#222" stroke-width="0.01" >0.5</text>
<text x="432.5" y="296.04" font-size="11.5" font-family='"Liberation Serif", serif' fill="#222" text-anchor="end" stroke="#222" stroke-width="0.01" >0.6</text>
<text x="432.5" y="272.12" font-size="11.5" font-family='"Liberation Serif", serif' fill="#222" text-anchor="end" stroke="#222" stroke-width="0.01" >0.7</text>
<text x="432.5" y="248.2" font-size="11.5" font-family='"Liberation Serif", serif' fill="#222" text-anchor="end" stroke="#222" stroke-width="0.01" >0.8</text>
<text x="442.6" y="386" font-size="10" font-family='"Liberation Sans", sans-serif' fill="#111111" text-anchor="middle" stroke="#111111" stroke-width="0.15" >0</text>
<text x="478.5" y="386" font-size="10" font-family='"Liberation Sans", sans-serif' fill="#111111" text-anchor="middle" stroke="#111111" stroke-width="0.15" >15</text>
<text x="514.4" y="386" font-size="10" font-family='"Liberation Sans", sans-serif' fill="#111111" text-anchor="middle" stroke="#111111" stroke-width="0.15" >30</text>
<text x="550.3" y="386" font-size="10" font-family='"Liberation Sans", sans-serif' fill="#111111" text-anchor="middle" stroke="#111111" stroke-width="0.15" >45</text>
<text x="586.2" y="386" font-size="10" font-family='"Liberation Sans", sans-serif' fill="#111111" text-anchor="middle" stroke="#111111" stroke-width="0.15" >60</text>
<text x="622.1" y="386" font-size="10" font-family='"Liberation Sans", sans-serif' fill="#111111" text-anchor="middle" stroke="#111111" stroke-width="0.15" >75</text>
<text x="658" y="386" font-size="10" font-family='"Liberation Sans", sans-serif' fill="#111111" text-anchor="middle" stroke="#111111" stroke-width="0.15" >90</text>
<text x="693.9" y="386" font-size="10" font-family='"Liberation Sans", sans-serif' fill="#111111" text-anchor="middle" stroke="#111111" stroke-width="0.15" >105</text>
<text x="729.8" y="386" font-size="10" font-family='"Liberation Sans", sans-serif' fill="#111111" text-anchor="middle" stroke="#111111" stroke-width="0.15" >120</text>
<text x="523.4" y="406.4" font-size="12" font-family='"Liberation Sans", sans-serif' fill="#111111" text-anchor="start" textLength="117.6" lengthAdjust="spacingAndGlyphs" stroke="#111111" stroke-width="0.15" >Storage periods (days)</text>
<text x="406" y="302.45" font-size="12.5" font-family='"Liberation Serif", serif' fill="#1a1a1a" text-anchor="middle" textLength="88.1" lengthAdjust="spacingAndGlyphs" transform="rotate(-90 406 302.45)" stroke="#1a1a1a" stroke-width="0.1" >Free fatty acid (%)</text>
<text x="399.6" y="384" font-size="17" font-family='"Liberation Serif", serif' fill="#111" text-anchor="start" textLength="20" lengthAdjust="spacingAndGlyphs" stroke="#111" stroke-width="0.2" >(d)</text>
<text x="51" y="584.9" font-size="11.5" font-family='"Liberation Serif", serif' fill="#222" text-anchor="end" stroke="#222" stroke-width="0.01" >0</text>
<text x="51" y="556.6" font-size="11.5" font-family='"Liberation Serif", serif' fill="#222" text-anchor="end" stroke="#222" stroke-width="0.01" >0.02</text>
<text x="51" y="528.3" font-size="11.5" font-family='"Liberation Serif", serif' fill="#222" text-anchor="end" stroke="#222" stroke-width="0.01" >0.04</text>
<text x="51" y="500" font-size="11.5" font-family='"Liberation Serif", serif' fill="#222" text-anchor="end" stroke="#222" stroke-width="0.01" >0.06</text>
<text x="51" y="471.7" font-size="11.5" font-family='"Liberation Serif", serif' fill="#222" text-anchor="end" stroke="#222" stroke-width="0.01" >0.08</text>
<text x="51" y="443.4" font-size="11.5" font-family='"Liberation Serif", serif' fill="#222" text-anchor="end" stroke="#222" stroke-width="0.01" >0.1</text>
<text x="62.6" y="602" font-size="11" font-family='"Liberation Serif", serif' fill="#111111" text-anchor="middle" stroke="#111111" stroke-width="0.2" >0</text>
<text x="96.4" y="602" font-size="11" font-family='"Liberation Serif", serif' fill="#111111" text-anchor="middle" stroke="#111111" stroke-width="0.2" >15</text>
<text x="130.2" y="602" font-size="11" font-family='"Liberation Serif", serif' fill="#111111" text-anchor="middle" stroke="#111111" stroke-width="0.2" >30</text>
<text x="164" y="602" font-size="11" font-family='"Liberation Serif", serif' fill="#111111" text-anchor="middle" stroke="#111111" stroke-width="0.2" >45</text>
<text x="197.8" y="602" font-size="11" font-family='"Liberation Serif", serif' fill="#111111" text-anchor="middle" stroke="#111111" stroke-width="0.2" >60</text>
<text x="231.6" y="602" font-size="11" font-family='"Liberation Serif", serif' fill="#111111" text-anchor="middle" stroke="#111111" stroke-width="0.2" >75</text>
<text x="265.4" y="602" font-size="11" font-family='"Liberation Serif", serif' fill="#111111" text-anchor="middle" stroke="#111111" stroke-width="0.2" >90</text>
<text x="299.2" y="602" font-size="11" font-family='"Liberation Serif", serif' fill="#111111" text-anchor="middle" stroke="#111111" stroke-width="0.2" >105</text>
<text x="333" y="602" font-size="11" font-family='"Liberation Serif", serif' fill="#111111" text-anchor="middle" stroke="#111111" stroke-width="0.2" >120</text>
<text x="141.3" y="620.8" font-size="12" font-family='"Liberation Serif", serif' fill="#111111" text-anchor="start" textLength="102.4" lengthAdjust="spacingAndGlyphs" stroke="#111111" stroke-width="0.2" >Storage period (days)</text>
<text x="12.7" y="507.2" font-size="11.5" font-family='"Liberation Serif", serif' fill="#1a1a1a" text-anchor="middle" textLength="69.5" lengthAdjust="spacingAndGlyphs" transform="rotate(-90 12.7 507.2)" stroke="#1a1a1a" stroke-width="0.1" >Peroxide value</text>
<text x="25.8" y="506.7" font-size="11.5" font-family='"Liberation Serif", serif' fill="#1a1a1a" text-anchor="middle" textLength="104.8" lengthAdjust="spacingAndGlyphs" transform="rotate(-90 25.8 506.7)" stroke="#1a1a1a" stroke-width="0.1" >(meqO<tspan font-size="8" dy="2">2</tspan><tspan dy="-2">/100g biscuits)</tspan></text>
<text x="4.5" y="595.3" font-size="17" font-family='"Liberation Serif", serif' fill="#111" text-anchor="start" textLength="20" lengthAdjust="spacingAndGlyphs" stroke="#111" stroke-width="0.3" >(<tspan font-weight="bold" stroke-width="0">e</tspan>)</text>
<text x="432.5" y="584.3" font-size="11.5" font-family='"Liberation Serif", serif' fill="#222" text-anchor="end" stroke="#222" stroke-width="0.01" >0</text>
<text x="432.5" y="556.48" font-size="11.5" font-family='"Liberation Serif", serif' fill="#222" text-anchor="end" stroke="#222" stroke-width="0.01" >0.04</text>
<text x="432.5" y="528.66" font-size="11.5" font-family='"Liberation Serif", serif' fill="#222" text-anchor="end" stroke="#222" stroke-width="0.01" >0.08</text>
<text x="432.5" y="500.84" font-size="11.5" font-family='"Liberation Serif", serif' fill="#222" text-anchor="end" stroke="#222" stroke-width="0.01" >0.12</text>
<text x="432.5" y="473.02" font-size="11.5" font-family='"Liberation Serif", serif' fill="#222" text-anchor="end" stroke="#222" stroke-width="0.01" >0.16</text>
<text x="432.5" y="445.2" font-size="11.5" font-family='"Liberation Serif", serif' fill="#222" text-anchor="end" stroke="#222" stroke-width="0.01" >0.2</text>
<text x="443.6" y="601.5" font-size="11" font-family='"Liberation Serif", serif' fill="#111111" text-anchor="middle" stroke="#111111" stroke-width="0.2" >0</text>
<text x="478.4" y="601.5" font-size="11" font-family='"Liberation Serif", serif' fill="#111111" text-anchor="middle" stroke="#111111" stroke-width="0.2" >15</text>
<text x="513.2" y="601.5" font-size="11" font-family='"Liberation Serif", serif' fill="#111111" text-anchor="middle" stroke="#111111" stroke-width="0.2" >30</text>
<text x="548" y="601.5" font-size="11" font-family='"Liberation Serif", serif' fill="#111111" text-anchor="middle" stroke="#111111" stroke-width="0.2" >45</text>
<text x="582.8" y="601.5" font-size="11" font-family='"Liberation Serif", serif' fill="#111111" text-anchor="middle" stroke="#111111" stroke-width="0.2" >60</text>
<text x="617.6" y="601.5" font-size="11" font-family='"Liberation Serif", serif' fill="#111111" text-anchor="middle" stroke="#111111" stroke-width="0.2" >75</text>
<text x="652.4" y="601.5" font-size="11" font-family='"Liberation Serif", serif' fill="#111111" text-anchor="middle" stroke="#111111" stroke-width="0.2" >90</text>
<text x="687.2" y="601.5" font-size="11" font-family='"Liberation Serif", serif' fill="#111111" text-anchor="middle" stroke="#111111" stroke-width="0.2" >105</text>
<text x="722" y="601.5" font-size="11" font-family='"Liberation Serif", serif' fill="#111111" text-anchor="middle" stroke="#111111" stroke-width="0.2" >120</text>
<text x="534" y="620.3" font-size="12" font-family='"Liberation Serif", serif' fill="#111111" text-anchor="start" textLength="103.1" lengthAdjust="spacingAndGlyphs" stroke="#111111" stroke-width="0.2" >Storage period (days)</text>
<text x="395.1" y="498.5" font-size="11.5" font-family='"Liberation Serif", serif' fill="#1a1a1a" text-anchor="middle" textLength="70" lengthAdjust="spacingAndGlyphs" transform="rotate(-90 395.1 498.5)" stroke="#1a1a1a" stroke-width="0.1" >Peroxide value</text>
<text x="407.9" y="498.7" font-size="11.5" font-family='"Liberation Serif", serif' fill="#1a1a1a" text-anchor="middle" textLength="105.4" lengthAdjust="spacingAndGlyphs" transform="rotate(-90 407.9 498.7)" stroke="#1a1a1a" stroke-width="0.1" >(meqO<tspan font-size="8" dy="2">2</tspan><tspan dy="-2">/100g biscuits)</tspan></text>
<text x="393.4" y="595.3" font-size="17" font-family='"Liberation Serif", serif' fill="#111" text-anchor="start" textLength="19" lengthAdjust="spacingAndGlyphs" stroke="#111" stroke-width="0.3" >(<tspan font-weight="bold" stroke-width="0">f</tspan>)</text>
</g></svg></body></html>
